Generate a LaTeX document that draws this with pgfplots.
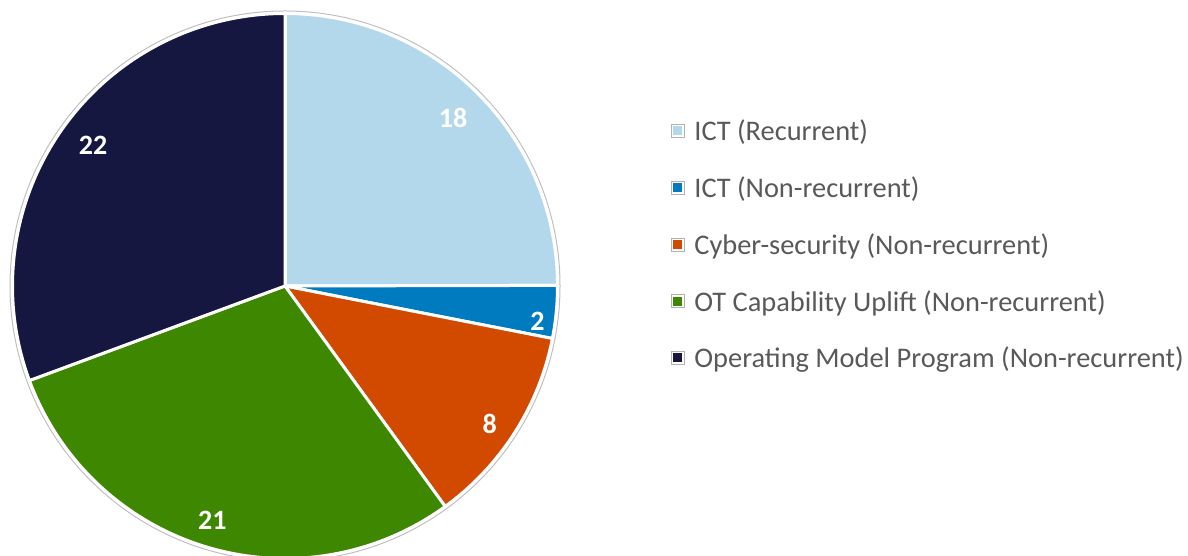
\documentclass[border=0pt]{standalone}
\usepackage{pgfplots}
\pgfplotsset{compat=1.18}
\usepackage{pgfplotstable}
\usepackage{fontspec}
\setmainfont{Carlito}

\definecolor{c0}{HTML}{B4D8EB}
\definecolor{c1}{HTML}{007BC0}
\definecolor{c2}{HTML}{D14A00}
\definecolor{c3}{HTML}{3E8700}
\definecolor{c4}{HTML}{151740}
\definecolor{legtext}{HTML}{595959}

% slice values; lr = label distance from centre (px), da = label angle shift (deg)
\pgfplotstableread[col sep=comma]{
name,value,lr,da
ICT (Recurrent),17.6,238,0
ICT (Non-recurrent),2.2,255,-2.4
Cyber-security (Non-recurrent),8.4,247,-1.5
OT Capability Uplift (Non-recurrent),20.7,245,-0.4
Operating Model Program (Non-recurrent),21.6,238,-1.4
}\piedata

% total and cumulative angles (start at 12 o'clock, clockwise)
\gdef\total{0}
\foreach \i in {0,...,4}{
  \pgfplotstablegetelem{\i}{value}\of\piedata
  \pgfmathsetmacro\newtot{\total+\pgfplotsretval}
  \xdef\total{\newtot}
}
\gdef\cum{0}
\foreach \i in {0,...,4}{
  \pgfplotstablegetelem{\i}{value}\of\piedata
  \let\myv\pgfplotsretval
  \pgfmathsetmacro\sa{90-360*(\cum/\total)}
  \pgfmathsetmacro\ea{90-360*((\cum+\myv)/\total)}
  \pgfplotstablegetelem{\i}{da}\of\piedata
  \pgfmathsetmacro\ma{(\sa+\ea)/2+\pgfplotsretval}
  \expandafter\xdef\csname sa\i\endcsname{\sa}
  \expandafter\xdef\csname ea\i\endcsname{\ea}
  \expandafter\xdef\csname ma\i\endcsname{\ma}
  \pgfmathtruncatemacro\vv{round(\myv)}
  \expandafter\xdef\csname val\i\endcsname{\vv}
  \pgfmathsetmacro\newcum{\cum+\myv}
  \xdef\cum{\newcum}
  \pgfplotstablegetelem{\i}{lr}\of\piedata
  \expandafter\xdef\csname lr\i\endcsname{\pgfplotsretval}
  \pgfplotstablegetelem{\i}{name}\of\piedata
  \expandafter\xdef\csname nm\i\endcsname{\pgfplotsretval}
  \pgfmathsetmacro\ly{556-(131+56.75*\i)}
  \expandafter\xdef\csname ly\i\endcsname{\ly}
  \pgfmathsetmacro\lb{\ly-10}
  \expandafter\xdef\csname lb\i\endcsname{\lb}
}

\begin{document}
\begin{tikzpicture}
\begin{axis}[
  width=594pt, height=278pt, scale only axis,
  xmin=0, xmax=1188, ymin=0, ymax=556,
  hide axis,
]
% faint outer ring
\draw[black!25, line width=0.5pt] (axis cs:285,270) circle[radius=137.5pt];
\pgfplotsinvokeforeach{0,...,4}{
  \filldraw[fill=c#1, draw=white, line width=1.5pt, line join=round]
    (axis cs:285,270) -- ++(\csname sa#1\endcsname:136.25pt)
    arc[start angle=\csname sa#1\endcsname, end angle=\csname ea#1\endcsname, radius=136.25pt]
    -- cycle;
}
\pgfplotsinvokeforeach{0,...,4}{
  \path (axis cs:285,270) ++({\csname ma#1\endcsname}:{\csname lr#1\endcsname})
    node[text=white, font=\bfseries\fontsize{14}{16}\selectfont] {\csname val#1\endcsname};
}
% legend
\pgfplotsinvokeforeach{0,...,4}{
  \filldraw[fill=white, draw=black!30, line width=0.4pt]
    (axis cs:671,{\csname ly#1\endcsname-6.5}) rectangle (axis cs:684,{\csname ly#1\endcsname+6.5});
  \fill[c#1] (axis cs:673,{\csname ly#1\endcsname-4.5}) rectangle (axis cs:682,{\csname ly#1\endcsname+4.5});
  \node[anchor=base west, inner sep=0pt, text=legtext, font=\fontsize{14.2}{16}\selectfont]
    at (axis cs:694,\csname lb#1\endcsname) {\csname nm#1\endcsname};
}
\end{axis}
\useasboundingbox (current axis.south west) rectangle (current axis.north east);
\end{tikzpicture}
\end{document}
